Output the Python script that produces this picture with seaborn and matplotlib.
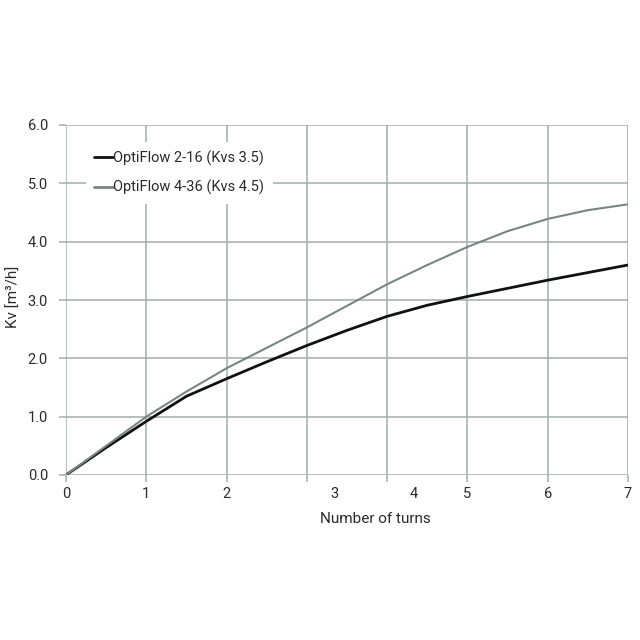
import pandas as pd
import matplotlib.pyplot as plt
import seaborn as sns

# values
turns = [0, 0.5, 1, 1.5, 2, 2.5, 3, 3.5, 4, 4.5, 5, 5.5, 6, 6.5, 7]
kv_2_16 = [0, 0.47, 0.92, 1.35, 1.65, 1.94, 2.22, 2.48, 2.72, 2.91, 3.06, 3.20, 3.34, 3.47, 3.60]
kv_4_36 = [0, 0.50, 1.00, 1.43, 1.83, 2.18, 2.53, 2.90, 3.27, 3.60, 3.91, 4.18, 4.39, 4.54, 4.64]
series_names = ["OptiFlow 2-16 (Kvs 3.5)", "OptiFlow 4-36 (Kvs 4.5)"]
x_ticks = [0, 1, 2, 3, 4, 5, 6, 7]
x_tick_labels = ["0", "1", "2", "3", "4", "5", "6", "7"]
x_label_pos = [0, 1, 2, 3.34, 4.33, 5, 6, 7]   # labels 3 and 4 sit off their ticks in the original
y_ticks = [0, 1, 2, 3, 4, 5, 6]

df = pd.DataFrame({
    "turns": turns * 2,
    "kv": kv_2_16 + kv_4_36,
    "series": [series_names[0]] * len(turns) + [series_names[1]] * len(turns),
})

sns.set_theme(style="whitegrid")
plt.rcParams["font.family"] = ["Roboto", "DejaVu Sans"]
grid_col = "#a3acac"
text_col = "#2b2b2b"

fig = plt.figure(figsize=(6.4, 6.4), dpi=100)
ax = fig.add_axes([66 / 640, 1 - 475 / 640, 562 / 640, 350 / 640])

sns.lineplot(data=df, x="turns", y="kv", hue="series", hue_order=series_names,
             palette=["#111111", "#788585"], ax=ax, legend=True)
for line, lw in zip(ax.lines, [2.0, 1.5]):
    line.set_linewidth(lw)
    line.set_solid_capstyle("butt")
    line.set_solid_joinstyle("round")

ax.set_xlim(0, 7)
ax.set_ylim(0, 6)
ax.xaxis.remove_overlapping_locs = False
ax.set_xticks(x_ticks)
ax.set_xticklabels([""] * len(x_ticks))
ax.set_xticks(x_label_pos, minor=True)
ax.set_xticklabels(x_tick_labels, minor=True)
ax.set_yticks(y_ticks)
ax.set_yticklabels([f"{v:.1f}" for v in y_ticks])

ax.grid(True, which="major", color=grid_col, linewidth=1.1)
ax.grid(False, which="minor")
for s in ax.spines.values():
    s.set_visible(False)

ax.tick_params(axis="both", which="major", length=5, width=1.1, color=grid_col,
               labelsize=10.5, labelcolor=text_col)
ax.tick_params(axis="x", which="major", bottom=True)
ax.tick_params(axis="y", which="major", left=True, pad=8)
ax.tick_params(axis="x", which="minor", length=0, pad=9, labelsize=10.5, labelcolor=text_col)

ax.set_xlabel("Number of turns", fontsize=11, color=text_col)
ax.set_ylabel("Kv [m³/h]", fontsize=11, color=text_col)
ax.xaxis.set_label_coords(0.55, -0.105)
ax.yaxis.set_label_coords(-0.08, 0.51)

leg = ax.legend(loc="upper left", bbox_to_anchor=(0.035, 0.952), borderaxespad=0,
                frameon=True, facecolor="white", edgecolor="none", framealpha=1,
                fancybox=False, fontsize=10.5, handlelength=1.3, handletextpad=0.0,
                labelspacing=0.95, borderpad=0.6)
for t in leg.get_texts():
    t.set_color(text_col)
for h in leg.get_lines():
    h.set_linewidth(2.0)

fig.savefig("out.png", dpi=100, facecolor="white")
